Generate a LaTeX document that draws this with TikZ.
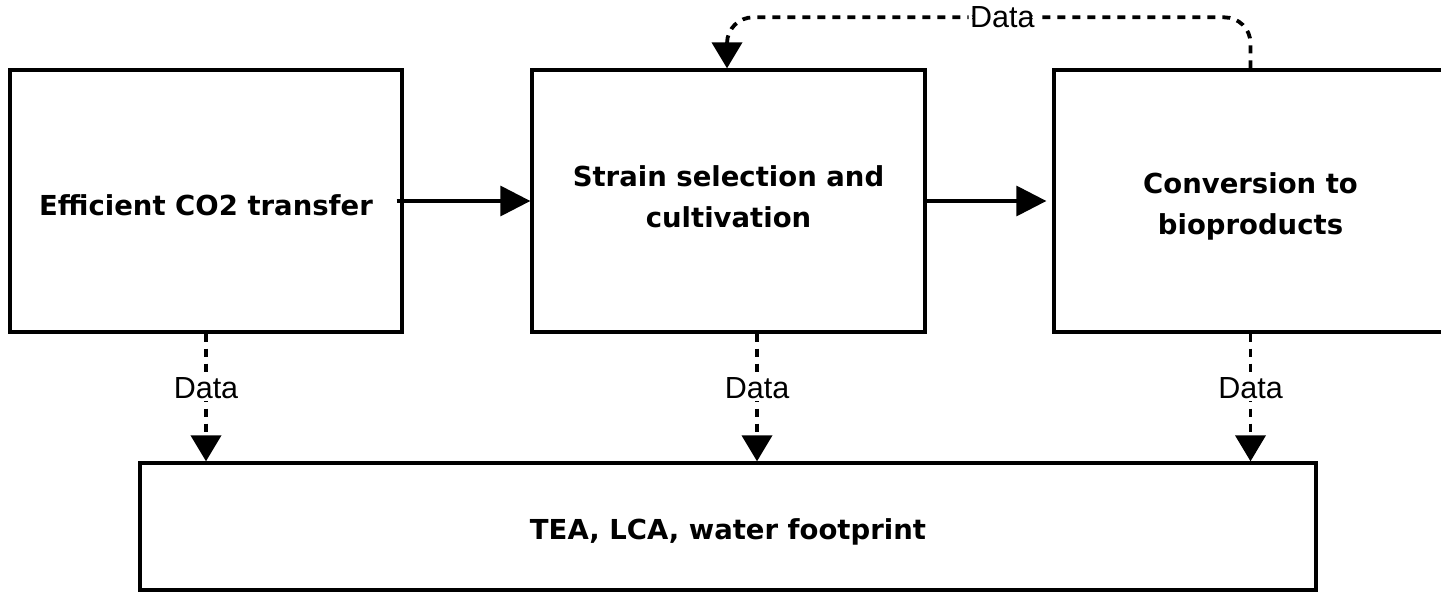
\documentclass[tikz,border=0pt]{standalone}
\usepackage{fontspec}
\newfontfamily\boxfont{DejaVu Sans}
\newfontfamily\labfont{Liberation Sans}
\usetikzlibrary{arrows.meta}
\begin{document}
\begin{tikzpicture}[x=1pt,y=-1pt,
  stagebox/.style={draw=black, line width=3.3pt, fill=white, inner sep=0pt, align=center,
    font=\boxfont\bfseries\fontsize{27.5}{41}\selectfont},
  solidarr/.style={line width=3.3pt, -{Triangle[length=30pt,width=30pt]}},
  dasharr/.style={line width=3.8pt, dash pattern=on 8pt off 7pt, -{Triangle[length=26pt,width=30pt]}},
  lab/.style={fill=white, inner sep=1.5pt, font=\labfont\fontsize{30.5}{34}\selectfont}]
\clip (0,0) rectangle (1441,594);
\fill[white] (0,0) rectangle (1441,594);

\node[stagebox, minimum width=392pt, minimum height=262pt] (b1) at (206,201) {\mbox{}\\[-12pt]Efficient CO2 transfer};
\node[stagebox, minimum width=393pt, minimum height=262pt] (b2) at (728.5,201) {Strain selection and\\cultivation\\[-33pt]\mbox{}};
\node[stagebox, minimum width=393pt, minimum height=262pt] (b3) at (1250.5,201) {\mbox{}\\[-10pt]Conversion to\\bioproducts};
\node[stagebox, minimum width=1176pt, minimum height=127pt] (b4) at (728,526.5) {\mbox{}\\[-9pt]TEA, LCA, water footprint};

\draw[solidarr] ([xshift=-7pt]b1.east) -- (b2.west);
\draw[solidarr, shorten >=6pt] (b2.east) -- (b3.west);

\draw[dasharr] (b1.south) -- node[lab, pos=0.43] {Data} (b1.south |- b4.north);
\draw[dasharr] ([xshift=28.5pt]b2.south) -- node[lab, pos=0.43] {Data} ([xshift=28.5pt]b2.south |- b4.north);
\draw[dasharr] (b3.south) -- node[lab, pos=0.43] {Data} (b3.south |- b4.north);

\coordinate (tl) at ([xshift=-1.5pt]b2.north);
\draw[dasharr, rounded corners=26pt] (b3.north) -- ++(0,-51) coordinate (tr)
  -- node[lab, pos=0.474] {Data} (tr -| tl) -- (tl);
\end{tikzpicture}
\end{document}
